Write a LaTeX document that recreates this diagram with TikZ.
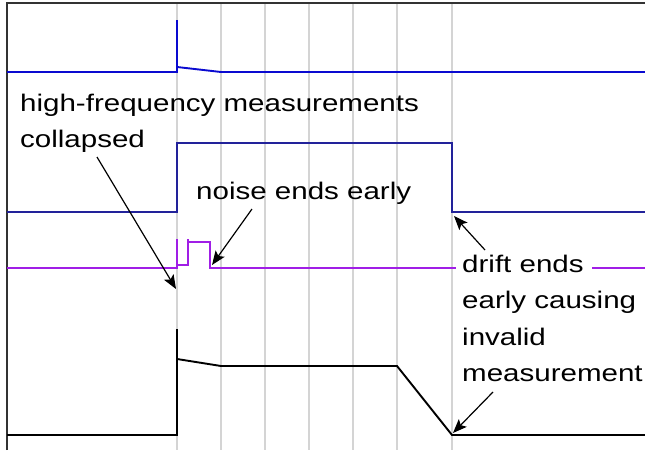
\documentclass[tikz,border=0pt]{standalone}
\usepackage{fontspec}
\newfontfamily\labfont[FakeStretch=1.23]{Liberation Sans}
\usetikzlibrary{arrows.meta}
\definecolor{gridgray}{HTML}{D4D4D4}
\definecolor{frame}{HTML}{333333}
\definecolor{sigblue}{HTML}{0A0AD0}
\definecolor{signavy}{HTML}{22229A}
\definecolor{sigpurple}{HTML}{A01EE6}
\begin{document}
\begin{tikzpicture}[x=1pt,y=-1pt,
  gridline/.style={gridgray,line width=1.2pt},
  frameline/.style={frame,line width=1.4pt},
  trace/.style={line width=1.9pt,line join=miter},
  callout/.style={black,line width=1.2pt,-{Stealth[length=14pt,width=11pt,inset=3pt]}},
  lab/.style={font=\labfont\fontsize{24}{36.5}\selectfont,inner sep=0pt,align=left,text=black}]
\useasboundingbox (0,0) rectangle (645,450);
\fill[white] (0,0) rectangle (645,450);
% grid
\foreach \gx in {177,221,265,309,353,397,452}
  \draw[gridline] (\gx,3) -- (\gx,450);
\draw[frameline] (7,450) -- (7,3) -- (645,3);
% traces
\draw[trace,sigblue] (7,72) -- (177,72) -- (177,20) -- (177,67) -- (221,72) -- (645,72);
\draw[trace,signavy] (7,212) -- (177,212) -- (177,143) -- (452,143) -- (452,212) -- (645,212);
\draw[trace,sigpurple] (7,268) -- (177,268) -- (177,239) -- (177,265) -- (188,265) -- (188,239) -- (188,242) -- (210,242) -- (210,268) -- (456,268);
\draw[trace,sigpurple] (592,268) -- (645,268);
\draw[trace,black] (7,435) -- (177,435) -- (177,329) -- (177,359) -- (221,366) -- (397,366) -- (452,435) -- (645,435);
% labels
\node[lab,anchor=north west] (hf) at (20,93.5) {high-frequency measurements\\collapsed};
\node[lab,anchor=north west] (noise) at (196,181.5) {noise ends early};
\node[lab,anchor=north west] (drift) at (462,254.5) {drift ends\\early causing\\invalid\\measurement};
% connector ends
\coordinate (t1) at (97,157);
\coordinate (h1) at (176,289);
\coordinate (t2) at (252,209);
\coordinate (h2) at (212,265);
\coordinate (t3) at (485,250);
\coordinate (h3) at (454,216);
\coordinate (t4) at (493,392);
\coordinate (h4) at (453,433);
\draw[callout] (t1) -- (h1);
\draw[callout] (t2) -- (h2);
\draw[callout] (t3) -- (h3);
\draw[callout] (t4) -- (h4);
\end{tikzpicture}
\end{document}
